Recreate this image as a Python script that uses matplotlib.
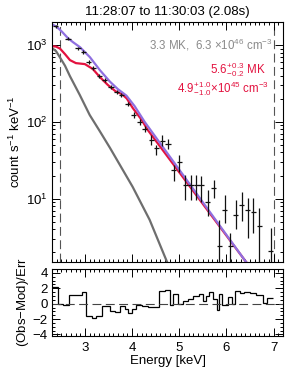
import numpy as np
import matplotlib
matplotlib.use('Agg')
import matplotlib.pyplot as plt
from matplotlib.ticker import MultipleLocator, LogLocator, NullFormatter

plt.rcParams['font.family'] = ['Liberation Sans', 'DejaVu Sans']
plt.rcParams['mathtext.fontset'] = 'custom'
plt.rcParams['mathtext.rm'] = 'Liberation Sans'
plt.rcParams['mathtext.it'] = 'Liberation Sans:italic'
plt.rcParams['mathtext.bf'] = 'Liberation Sans:bold'

# ---------------- data ----------------
title = "11:28:07 to 11:30:03 (2.08s)"

energy = [2.38, 2.64, 2.85, 2.96, 3.08, 3.18, 3.30, 3.42, 3.55, 3.67, 3.77, 3.91,
          4.03, 4.16, 4.27, 4.41, 4.51, 4.64, 4.76, 4.88, 5.00, 5.13, 5.25, 5.36,
          5.46, 5.60, 5.73, 5.85, 5.96, 6.08, 6.20, 6.32, 6.45, 6.57, 6.70, 6.94]
counts = [1750, 1215, 906, 811, 601, 503, 396, 351, 285, 245, 224, 171,
          124, 100, 81, 58, 45.7, 57, 51, 23.8, 29.7, 15.2, 15.2, 15.0,
          15.0, 9.2, 13.7, 2.4, 7.2, 2.4, 6.2, 8.3, 7.2, 6.7, 4.4, 2.07]
counts_lo = [1680, 1160, 862, 770, 570, 475, 373, 330, 267, 229, 209, 159,
             114, 92, 74, 50.2, 37.2, 48, 44.2, 16.8, 22.6, 9.7, 9.7, 9.7,
             9.2, 5.9, 10.2, 1.0, 4.8, 1.0, 4.0, 5.1, 3.1, 3.6, 1.0, 1.0]
counts_hi = [1820, 1270, 950, 855, 635, 533, 420, 373, 304, 262, 240, 184,
             134, 109, 89, 67.8, 50.2, 67.8, 59.6, 27.7, 37.2, 20.5, 20.5, 20.5,
             19.5, 13.1, 17.7, 5.3, 11.2, 3.6, 9.7, 12.4, 10.2, 10.2, 7.6, 4.2]
energy_halfwidth = 0.055

cool_E = [2.30, 2.385, 2.47, 2.575, 2.68, 2.89, 3.10, 3.31, 3.53, 4.01, 4.37, 4.72, 4.80]
cool_model = [914, 836, 690, 540, 395, 224, 123, 76.4, 45.9, 14.3, 5.33, 1.61, 1.23]

hot_E = [2.30, 2.385, 2.469, 2.575, 2.681, 2.807, 2.998, 3.167, 3.315, 3.484,
         3.653, 3.780, 3.886, 4.012, 4.203, 4.330, 6.380, 6.486]
hot_model = [970, 957, 902, 764, 638, 583, 566, 488, 384, 303,
             249, 231, 202, 152, 106, 78.7, 1.61, 1.32]

total_E = [2.30, 2.406, 2.511, 2.638, 2.744, 2.892, 3.103, 3.315, 3.526, 3.695,
           3.879, 4.054, 4.266, 6.380, 6.486]
total_model = [1875, 1714, 1496, 1233, 1094, 942, 698, 473, 336, 268,
               220, 160, 100, 1.61, 1.32]

fit_range = [2.47, 7.0]

resid_edges = [2.30, 2.43, 2.54, 2.66, 2.93, 3.02, 3.14, 3.24, 3.36, 3.53,
               3.63, 3.74, 3.84, 3.91, 4.00, 4.09, 4.20, 4.34, 4.58, 4.69,
               4.80, 4.87, 4.97, 5.08, 5.18, 5.29, 5.41, 5.50, 5.56, 5.64,
               5.71, 5.80, 5.85, 5.91, 6.03, 6.11, 6.18, 6.28, 6.38, 6.49,
               6.63, 6.77, 6.87, 6.98]
resid_values = [2.2, 0.0, -0.15, 1.1, 1.45, -1.55, -1.8, -1.65, -0.3, -0.9,
                -1.05, -0.3, -0.65, -1.15, -0.75, -0.15, -0.3, -0.4, 1.6, 1.8,
                -0.15, 1.3, -0.1, 0.3, 0.55, 0.95, 1.2, 0.4, 1.0, 1.5,
                0.55, -0.8, 1.2, -0.15, 0.8, 0.0, 1.6, 1.4, 1.45, 1.35,
                1.1, 0.1, 0.7]

# ---------------- figure ----------------
W, H = 291, 374
fig = plt.figure(figsize=(W / 100, H / 100), dpi=100)

def box(l, t, r, b):
    return [l / W, 1 - b / H, (r - l) / W, (b - t) / H]

ax = fig.add_axes(box(52, 22, 283, 262))
axr = fig.add_axes(box(52, 269, 283, 336), sharex=ax)

purple = '#8f6fe0'
red = '#e3123f'
gray = '#6e6e6e'
FS = 9.5

ax.plot(cool_E, cool_model, color=gray, lw=1.6, zorder=2)
ax.plot(hot_E, hot_model, color=red, lw=1.6, zorder=2)
ax.plot(total_E, total_model, color=purple, lw=1.6, zorder=2.1)

c = np.array(counts)
yerr = [c - np.array(counts_lo), np.array(counts_hi) - c]
ax.errorbar(energy, counts, xerr=energy_halfwidth, yerr=yerr, fmt='none',
            ecolor='#111111', elinewidth=0.9, capsize=0, zorder=3)

for xv in fit_range:
    ax.axvline(xv, color='#555555', lw=0.8, ls=(0, (8, 4)), zorder=1)

ax.set_yscale('log')
ax.set_xlim(2.3, 7.2)
ax.set_ylim(1.5, 2000)
ax.set_ylabel('count s$^{-1}$ keV$^{-1}$', fontsize=FS, labelpad=2)
ax.set_title(title, fontsize=FS, pad=5)

ax.yaxis.set_major_locator(LogLocator(base=10, numticks=10))
ax.yaxis.set_minor_locator(LogLocator(base=10, subs=np.arange(2, 10), numticks=20))
ax.yaxis.set_minor_formatter(NullFormatter())
ax.xaxis.set_major_locator(MultipleLocator(1))
ax.xaxis.set_minor_locator(MultipleLocator(0.1))
ax.tick_params(axis='x', labelbottom=False)

# annotations (pixel -> axes coords)
def axpt(px, py):
    return ((px - 52) / (283 - 52), 1 - (py - 22) / (262 - 22))

ax.text(*axpt(273, 45), '3.3 MK,  6.3 $\\times$10$^{46}$ cm$^{-3}$', transform=ax.transAxes,
        ha='right', va='center', fontsize=8.3, color='#8a8a8a')
ax.text(*axpt(266, 70), '5.6$^{+\\,0.3}_{-\\,0.2}$ MK', transform=ax.transAxes,
        ha='right', va='center', fontsize=8.3, color=red)
ax.text(*axpt(269, 89), '4.9$^{+\\,1.0}_{-\\,1.0}$$\\times$10$^{45}$ cm$^{-3}$', transform=ax.transAxes,
        ha='right', va='center', fontsize=8.3, color=red)

# residuals
axr.stairs(resid_values, resid_edges, baseline=None, color='black', lw=0.9)
axr.axhline(0, color='#444444', lw=0.8, ls=(0, (8, 4)))
axr.set_ylim(-4.2, 4.5)
axr.set_xlim(2.3, 7.2)
axr.yaxis.set_major_locator(MultipleLocator(2))
axr.yaxis.set_minor_locator(MultipleLocator(0.5))
axr.xaxis.set_minor_locator(MultipleLocator(0.1))
axr.set_ylabel('(Obs$-$Mod)/Err', fontsize=FS, labelpad=1)
axr.set_xlabel('Energy [keV]', fontsize=FS, labelpad=1)

for a in (ax, axr):
    a.tick_params(which='both', direction='in', top=True, right=True,
                  labelsize=FS, width=0.7)
    a.tick_params(which='major', length=5.5, pad=3)
    a.tick_params(which='minor', length=2.5)
    for s in a.spines.values():
        s.set_linewidth(0.8)
axr.tick_params(axis='x', pad=4)

fig.savefig('out.png', dpi=100)
